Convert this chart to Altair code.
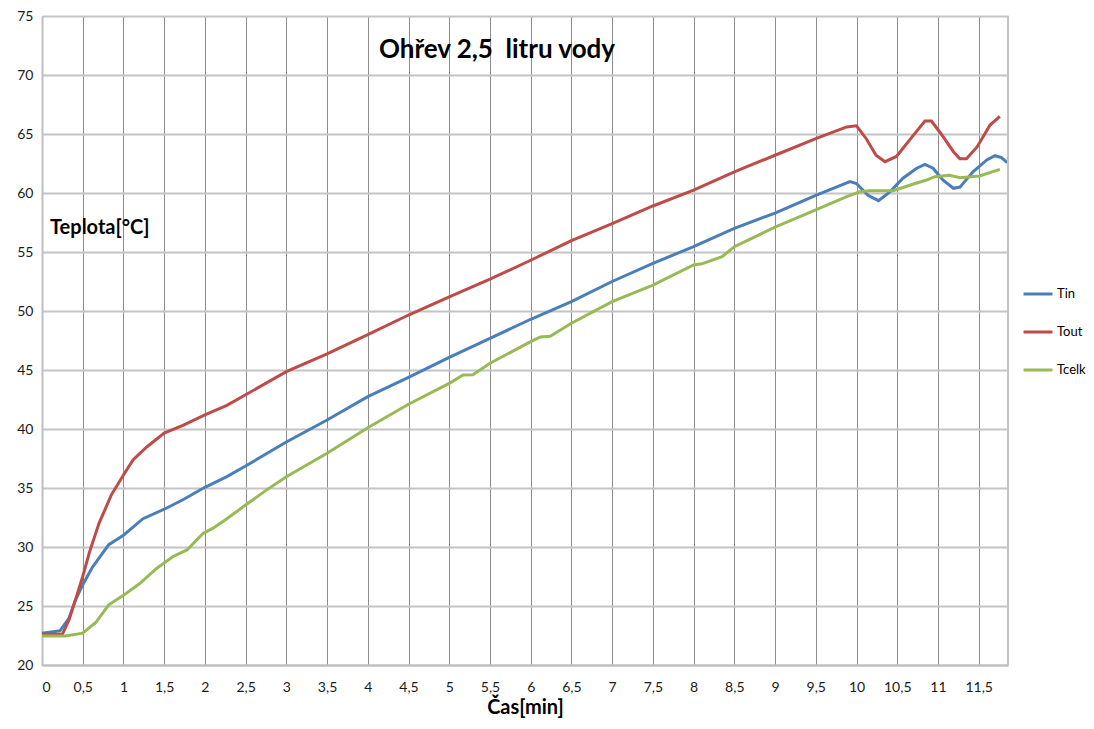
import altair as alt
import pandas as pd

# ---- data ----
tin_t = [0, 0.22, 0.33, 0.41, 0.5, 0.62, 0.82, 1.0, 1.24, 1.5, 1.73, 2.0, 2.27, 2.5,
         3.0, 3.5, 4.0, 4.5, 5.0, 5.5, 6.0, 6.5, 7.0, 7.5, 8.0, 8.5, 9.0, 9.5, 9.92,
         10.0, 10.14, 10.27, 10.41, 10.57, 10.74, 10.84, 10.94, 11.06, 11.19, 11.27,
         11.43, 11.6, 11.7, 11.78, 11.85]
tin_v = [22.7, 22.9, 23.95, 25.5, 26.8, 28.3, 30.2, 31.0, 32.4, 33.2, 34.0, 35.06, 35.96, 36.86,
         38.9, 40.76, 42.74, 44.38, 46.07, 47.68, 49.3, 50.8, 52.5, 54.04, 55.45, 57.0, 58.3, 59.8, 60.96,
         60.8, 59.8, 59.35, 60.1, 61.25, 62.1, 62.43, 62.1, 61.1, 60.4, 60.5,
         61.8, 62.8, 63.16, 63.0, 62.57]

tout_t = [0, 0.25, 0.33, 0.41, 0.5, 0.58, 0.7, 0.85, 1.0, 1.12, 1.29, 1.5, 1.73, 2.0, 2.27, 2.5,
          3.0, 3.5, 4.0, 4.5, 5.0, 5.5, 6.0, 6.5, 7.0, 7.5, 8.0, 8.5, 9.0, 9.5, 9.88,
          10.0, 10.12, 10.24, 10.35, 10.49, 10.7, 10.84, 10.92, 11.04, 11.19, 11.27, 11.35,
          11.48, 11.64, 11.76]
tout_v = [22.6, 22.6, 23.8, 25.5, 27.5, 29.5, 32.0, 34.4, 36.1, 37.4, 38.5, 39.65, 40.3, 41.2, 42.0, 42.9,
          44.86, 46.36, 48.0, 49.66, 51.2, 52.7, 54.3, 55.96, 57.4, 58.9, 60.25, 61.8, 63.2, 64.6, 65.6,
          65.7, 64.6, 63.2, 62.65, 63.1, 64.9, 66.1, 66.1, 65.0, 63.5, 62.9, 62.9,
          63.9, 65.76, 66.5]

tcelk_t = [0, 0.29, 0.5, 0.66, 0.82, 1.0, 1.2, 1.41, 1.61, 1.78, 1.98, 2.1, 2.27, 2.5, 2.75,
           3.0, 3.5, 4.0, 4.5, 5.0, 5.17, 5.29, 5.5, 6.0, 6.12, 6.24, 6.5, 7.0, 7.5, 8.0, 8.1,
           8.35, 8.5, 9.0, 9.5, 9.88, 10.04, 10.16, 10.45, 10.7, 10.86, 10.96, 11.14, 11.27,
           11.51, 11.76]
tcelk_v = [22.46, 22.46, 22.7, 23.6, 25.1, 25.9, 26.9, 28.2, 29.2, 29.75, 31.16, 31.6, 32.4, 33.56, 34.8,
           35.96, 37.94, 40.1, 42.1, 43.87, 44.58, 44.6, 45.57, 47.4, 47.8, 47.85, 48.96, 50.8, 52.2, 53.9, 54.0,
           54.6, 55.45, 57.1, 58.56, 59.7, 60.1, 60.2, 60.2, 60.76, 61.1, 61.38, 61.5, 61.3,
           61.44, 62.0]

series_names = ["Tin", "Tout", "Tcelk"]
series_colors = ["#4a7ebb", "#be4b48", "#98b954"]
x_ticks = [i * 0.5 for i in range(24)]
y_ticks = list(range(20, 80, 5))

rows = []
for name, ts, vs in [("Tin", tin_t, tin_v), ("Tout", tout_t, tout_v), ("Tcelk", tcelk_t, tcelk_v)]:
    for t, v in zip(ts, vs):
        rows.append({"series": name, "t": t, "v": v})
df = pd.DataFrame(rows)

FONT = "Lato"
W, H = 966, 649

lines = alt.Chart(df).mark_line(strokeWidth=3, interpolate="linear").encode(
    x=alt.X("t:Q", scale=alt.Scale(domain=[0, 11.86], nice=False, zero=False),
            axis=alt.Axis(values=x_ticks, title="Čas[min]",
                          labelExpr="replace(toString(datum.value), '.', ',')",
                          grid=True, gridColor="#8c8c8c", gridWidth=1,
                          domainColor="#bfbfbf", domainWidth=2, ticks=False,
                          labelPadding=15, labelFontSize=14, labelColor="#1a1a1a",
                          labelFont=FONT, titleFont=FONT, titleFontSize=20,
                          titleFontWeight="bold", titleColor="#000000", titlePadding=3)),
    y=alt.Y("v:Q", scale=alt.Scale(domain=[20, 75], nice=False, zero=False),
            axis=alt.Axis(values=y_ticks, title=None, grid=True, gridColor="#c4c4c4",
                          gridWidth=2, domainColor="#bfbfbf", domainWidth=2, ticks=False,
                          labelPadding=9, labelFontSize=14, labelColor="#1a1a1a",
                          labelFont=FONT)),
    color=alt.Color("series:N", scale=alt.Scale(domain=series_names, range=series_colors),
                    legend=alt.Legend(title=None, orient="none", legendX=980, legendY=262,
                                      symbolType="stroke", symbolSize=841, symbolStrokeWidth=3,
                                      labelFont=FONT, labelFontSize=13, labelColor="#000000",
                                      rowPadding=15, labelOffset=3)),
)

one = pd.DataFrame({"a": [0]})
border = alt.Chart(one).mark_rule(color="#c4c4c4", strokeWidth=2).encode(
    x=alt.value(W), y=alt.value(0), y2=alt.value(H))

title = alt.Chart(one).mark_text(font=FONT, fontSize=26, fontWeight="bold", color="#000000",
                                 align="center", baseline="middle").encode(
    x=alt.value(455), y=alt.value(34), text=alt.value("Ohřev 2,5\u00a0 litru vody"))

ylab = alt.Chart(one).mark_text(font=FONT, fontSize=20, fontWeight="bold", color="#000000",
                                align="left", baseline="middle").encode(
    x=alt.value(8), y=alt.value(212), text=alt.value("Teplota[°C]"))

chart = alt.layer(lines, border, title, ylab).properties(
    width=W, height=H,
    autosize=alt.AutoSizeParams(type="none"),
    padding={"left": 34, "top": 8, "right": 78, "bottom": 57},
).configure_view(stroke=None).configure(background="white")

chart.save("out.html", embed_options={"renderer": "svg", "actions": False})
